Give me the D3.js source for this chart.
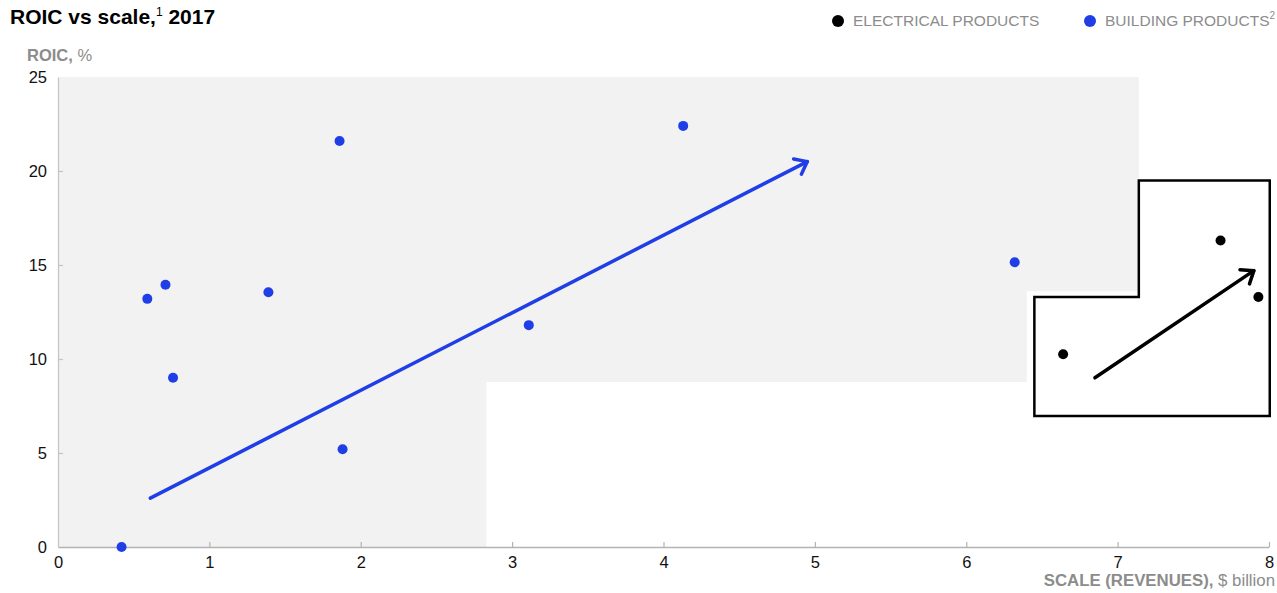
<!DOCTYPE html>
<html>
<head>
<meta charset="utf-8">
<script src="https://cdn.jsdelivr.net/npm/d3@7"></script>
<style>
  html, body { margin: 0; padding: 0; background: #fff; }
  svg { display: block; font-family: "Liberation Sans", Arial, Helvetica, sans-serif; }
</style>
</head>
<body>
<svg id="chart" width="1277" height="593"></svg>
<script>
// Building products: revenues ($ billion) and ROIC (%)
const buildingX = [0.42, 0.59, 0.71, 0.76, 1.39, 1.86, 1.88, 3.11, 4.13, 6.32];
const buildingY = [0.0, 13.2, 13.95, 9.0, 13.55, 21.6, 5.2, 11.8, 22.4, 15.15];

// Electrical products
const electricalX = [6.64, 7.68, 7.93];
const electricalY = [10.25, 16.3, 13.3];

// Trend arrows [x0, y0, x1, y1]
const buildingTrend = [0.61, 2.6, 4.95, 20.5];
const electricalTrend = [6.85, 9.0, 7.9, 14.7];

// Shaded building-products zone and the electrical inset outline (data units)
const buildingZoneX = [0, 7.14, 7.14, 6.40, 6.40, 2.83, 2.83, 0];
const buildingZoneY = [25, 25, 13.6, 13.6, 8.78, 8.78, 0, 0];
const electricalZoneX = [6.45, 7.14, 7.14, 8.005, 8.005, 6.45];
const electricalZoneY = [13.3, 13.3, 19.5, 19.5, 6.97, 6.97];

const xTicks = [0, 1, 2, 3, 4, 5, 6, 7, 8];
const yTicks = [0, 5, 10, 15, 20, 25];

const BLUE = "#1f3ee6";
const svg = d3.select("#chart");

const x = d3.scaleLinear().domain([0, 8]).range([58, 1269]);
const y = d3.scaleLinear().domain([0, 25]).range([547, 77]);

// Shaded zone
svg.append("path")
  .attr("d", d3.line()(buildingZoneX.map((v, i) => [x(v), y(buildingZoneY[i])])) + "Z")
  .attr("fill", "#f2f2f2");

// Inset outline
svg.append("path")
  .attr("d", d3.line()(electricalZoneX.map((v, i) => [x(v), y(electricalZoneY[i])])) + "Z")
  .attr("fill", "#fff")
  .attr("stroke", "#000")
  .attr("stroke-width", 2.5);

// X axis
const xAxis = svg.append("g")
  .attr("transform", `translate(0,${y(0)})`)
  .call(d3.axisBottom(x).tickValues(xTicks).tickSize(0).tickPadding(9).tickFormat(d3.format("d")));
xAxis.select(".domain").attr("stroke", "#b3b3b3").attr("stroke-width", 1.5);
xAxis.selectAll(".tick text").attr("fill", "#111").style("font-size", "16.5px");
xAxis.selectAll(".tick").filter(d => d > 0).append("line")
  .attr("y1", 0).attr("y2", -5).attr("stroke", "#b3b3b3").attr("stroke-width", 1.2);

// Y axis
const yAxis = svg.append("g")
  .attr("transform", `translate(${x(0)},0)`)
  .call(d3.axisLeft(y).tickValues(yTicks).tickSize(0).tickPadding(11).tickFormat(d3.format("d")));
yAxis.select(".domain").attr("stroke", "#c4c4c4").attr("stroke-width", 1.2);
yAxis.selectAll(".tick text").attr("fill", "#111").style("font-size", "16.5px");
yAxis.selectAll(".tick").filter(d => d > 0 && d < 25).append("line")
  .attr("x1", 0).attr("x2", 5).attr("stroke", "#c4c4c4").attr("stroke-width", 1.2);

// Arrow markers (open chevrons)
const defs = svg.append("defs");
function addMarker(id, color) {
  defs.append("marker")
    .attr("id", id)
    .attr("viewBox", "-16 -16 32 32")
    .attr("refX", 0).attr("refY", 0)
    .attr("markerWidth", 32).attr("markerHeight", 32)
    .attr("markerUnits", "userSpaceOnUse")
    .attr("orient", "auto")
    .append("path")
    .attr("d", "M-11,-8.5 L0,0 L-11,8.5")
    .attr("fill", "none")
    .attr("stroke", color)
    .attr("stroke-width", 3.5)
    .attr("stroke-linecap", "round")
    .attr("stroke-linejoin", "round");
}
addMarker("arrowBlue", BLUE);
addMarker("arrowBlack", "#000");

function drawArrow(t, color, marker) {
  svg.append("line")
    .attr("x1", x(t[0])).attr("y1", y(t[1]))
    .attr("x2", x(t[2])).attr("y2", y(t[3]))
    .attr("stroke", color)
    .attr("stroke-width", 3.5)
    .attr("stroke-linecap", "round")
    .attr("marker-end", `url(#${marker})`);
}
drawArrow(buildingTrend, BLUE, "arrowBlue");
drawArrow(electricalTrend, "#000", "arrowBlack");

// Points
svg.append("g").selectAll("circle")
  .data(buildingX.map((v, i) => [v, buildingY[i]]))
  .join("circle")
  .attr("cx", d => x(d[0])).attr("cy", d => y(d[1]))
  .attr("r", 5).attr("fill", BLUE);

svg.append("g").selectAll("circle")
  .data(electricalX.map((v, i) => [v, electricalY[i]]))
  .join("circle")
  .attr("cx", d => x(d[0])).attr("cy", d => y(d[1]))
  .attr("r", 5).attr("fill", "#000");

// Title
const title = svg.append("text")
  .attr("x", 10).attr("y", 24)
  .attr("fill", "#000")
  .style("font-size", "21px").style("font-weight", "bold");
title.append("tspan").text("ROIC vs scale,");
title.append("tspan").attr("dy", -8).style("font-size", "12px").style("font-weight", "normal").text("1");
title.append("tspan").attr("dy", 8).text(" 2017");

// Y axis title
const yt = svg.append("text")
  .attr("x", 27).attr("y", 61)
  .attr("fill", "#8c8c8c")
  .style("font-size", "16.5px");
yt.append("tspan").style("font-weight", "bold").text("ROIC,");
yt.append("tspan").text(" %");

// X axis title
const xt = svg.append("text")
  .attr("x", 1275).attr("y", 586)
  .attr("text-anchor", "end")
  .attr("fill", "#8c8c8c")
  .style("font-size", "16.8px");
xt.append("tspan").style("font-weight", "bold").text("SCALE (REVENUES),");
xt.append("tspan").text(" $ billion");

// Legend
const legend = [
  { label: "ELECTRICAL PRODUCTS", color: "#000", cx: 838, sup: null },
  { label: "BUILDING PRODUCTS", color: BLUE, cx: 1090, sup: "2" }
];
legend.forEach(l => {
  svg.append("circle").attr("cx", l.cx).attr("cy", 21).attr("r", 6).attr("fill", l.color);
  const t = svg.append("text")
    .attr("x", l.cx + 15).attr("y", 26)
    .attr("fill", "#8c8c8c")
    .style("font-size", "15.5px");
  t.append("tspan").text(l.label);
  if (l.sup) t.append("tspan").attr("dy", -7).style("font-size", "10px").text(l.sup);
});
</script>
</body>
</html>
